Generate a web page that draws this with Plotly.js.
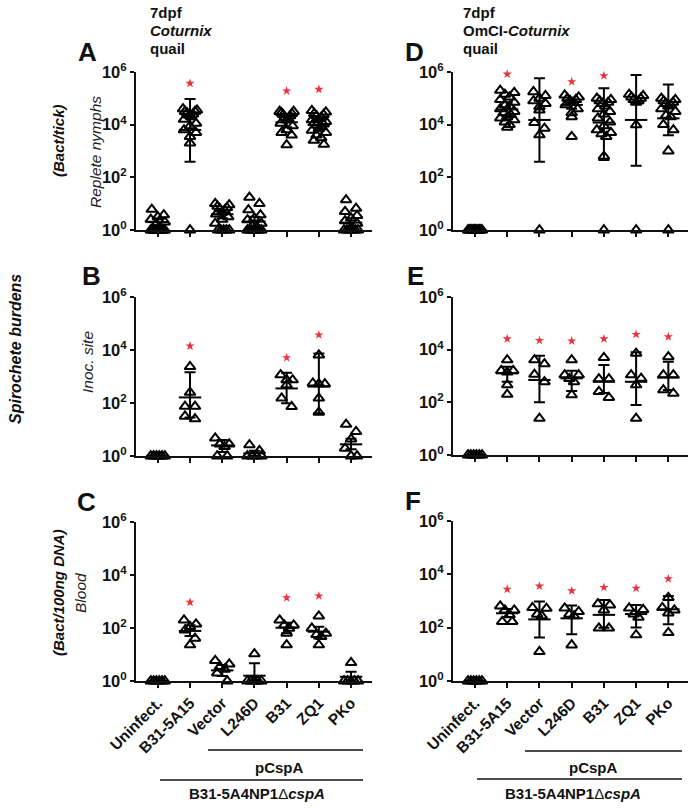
<!DOCTYPE html>
<html>
<head>
<meta charset="utf-8">
<script src="https://cdn.plot.ly/plotly-3.0.1.min.js"></script>
<style>html,body{margin:0;padding:0;background:#fff;}#chart{width:696px;height:808px;}</style>
</head>
<body>
<div id="chart"></div>
<script>
// ---------------- DATA (log10 of spirochete burden) ----------------
const categories = ["Uninfect.", "B31-5A15", "Vector", "L246D", "B31", "ZQ1", "PKo"];
const tickExponents = [0, 2, 4, 6];

// Panel A – Coturnix quail, replete nymphs (Bact/tick)
const A_points = [
  [0,0,0,0,0,0,0,0,0,0,0,0,0.1,0.2,0.3,0.4,0.5,0.57,0.78],
  [4.6,4.55,4.5,4.5,4.45,4.4,4.35,4.3,4.2,4.05,3.95,3.8,3.7,3.55,3.3,0],
  [1.0,0.95,0.9,0.85,0.8,0.75,0.68,0.6,0.5,0.4,0.25,0,0,0,0,0],
  [1.24,1.0,0.76,0.57,0.45,0.38,0.25,0.15,0.1,0,0,0,0,0,0,0,0],
  [4.5,4.5,4.45,4.42,4.38,4.33,4.28,4.22,4.18,4.05,3.95,3.8,3.7,3.6,3.23],
  [4.53,4.48,4.42,4.38,4.33,4.28,4.22,4.18,4.12,4.08,4.02,3.98,3.92,3.85,3.78,3.7,3.6,3.5,3.4,3.25],
  [1.14,0.82,0.7,0.55,0.45,0.35,0.25,0.1,0,0,0,0,0,0]
];
const A_mean = [0.3, 3.8, 0.6, 0.32, 4.09, 3.99, 0.28];
const A_low  = [0.15, 2.59, 0.45, 0.15, 3.9, 3.85, 0.12];
const A_high = [0.45, 4.97, 0.75, 0.5, 4.3, 4.15, 0.45];
const A_star = [null, 5.57, null, null, 5.28, 5.34, null];

// Panel B – Coturnix quail, inoculation site
const B_points = [
  [0,0,0,0,0,0],
  [3.37,2.4,1.87,1.87,1.5,1.4],
  [0.67,0.45,0.45,0.35,0,0],
  [0.42,0.2,0,0,0,0],
  [3.06,2.87,2.87,2.68,2.18,1.86],
  [3.81,2.75,2.72,2.72,2.18,1.65],
  [1.19,0.92,0.64,0.29,0,0]
];
const B_mean = [0, 2.21, 0.4, 0.1, 2.55, 2.62, 0.44];
const B_low  = [0, 1.45, 0.15, 0, 1.99, 1.61, 0.25];
const B_high = [0, 3.16, 0.6, 0.2, 3.14, 3.87, 0.65];
const B_star = [null, 4.15, null, null, 3.71, 4.57, null];

// Panel C – Coturnix quail, blood (Bact/100ng DNA)
const C_points = [
  [0,0,0,0,0,0],
  [2.3,2.15,2.05,1.92,1.61,1.36],
  [0.77,0.64,0.54,0.44,0.3,0],
  [1.02,0,0,0,0,0],
  [2.3,2.11,2.11,1.99,1.8,1.36],
  [2.45,1.99,1.8,1.75,1.67,1.36],
  [0.69,0,0,0,0,0]
];
const C_mean = [0, 1.89, 0.4, 0.2, 2.01, 1.86, 0.16];
const C_low  = [0, 1.7, 0.19, 0, 1.8, 1.6, 0];
const C_high = [0, 2.1, 0.6, 0.67, 2.2, 2.05, 0.35];
const C_star = [null, 2.97, null, null, 3.14, 3.21, null];

// Panel D – OmCI-Coturnix quail, replete nymphs
const D_points = [
  [0,0,0,0,0,0,0,0,0,0,0,0],
  [5.3,5.22,5.15,5.05,4.95,4.85,4.75,4.7,4.6,4.5,4.45,4.38,4.3,4.25,4.18,4.1,4.0,3.9],
  [5.25,5.1,5.0,4.9,4.8,4.68,4.55,4.08,3.86,3.61,0],
  [5.12,5.05,5.0,4.95,4.9,4.85,4.75,4.6,4.45,4.3,3.55],
  [5.0,4.95,4.9,4.85,4.8,4.7,4.6,4.5,4.4,4.25,4.1,3.95,3.8,3.7,3.65,3.55,2.8,0],
  [5.15,5.1,5.05,5.0,4.95,4.9,4.85,3.99,0],
  [5.0,4.95,4.9,4.85,4.8,4.75,4.7,4.6,4.5,4.35,4.3,4.0,3.8,3.0,0]
];
const D_mean = [0, 4.58, 4.18, 4.75, 4.08, 4.18, 4.24];
const D_low  = [0, 4.35, 2.59, 4.6, 2.66, 2.44, 3.6];
const D_high = [0, 4.85, 5.76, 4.95, 5.38, 5.89, 5.53];
const D_star = [null, 5.92, 6.27, 5.63, 5.86, 6.35, 6.01];

// Panel E – OmCI-Coturnix quail, inoculation site
const E_points = [
  [0,0,0,0,0,0],
  [3.61,3.2,3.2,3.15,2.66,2.3],
  [3.61,3.46,3.06,2.78,1.39],
  [3.61,3.04,3.04,2.9,2.78,2.28],
  [3.7,2.89,2.89,2.41,2.18],
  [3.86,3.04,2.91,2.66,1.39],
  [3.73,3.04,3.04,2.47,2.34]
];
const E_mean = [0, 3.1, 2.85, 2.91, 2.78, 2.78, 2.94];
const E_low  = [0, 2.78, 2.0, 2.43, 2.35, 1.9, 2.47];
const E_high = [0, 3.35, 3.77, 3.2, 3.42, 3.9, 3.54];
const E_star = [null, 4.41, 4.35, 4.33, 4.41, 4.58, 4.49];

// Panel F – OmCI-Coturnix quail, blood
const F_points = [
  [0,0,0,0,0,0],
  [2.81,2.66,2.66,2.48,2.23,2.23],
  [2.75,2.72,2.5,2.44,1.1],
  [2.73,2.6,2.5,2.44,1.35],
  [2.89,2.85,2.66,1.98,1.98],
  [2.73,2.68,2.51,2.39,1.73],
  [3.13,2.75,2.66,2.55,1.81]
];
const F_mean = [0, 2.54, 2.31, 2.35, 2.48, 2.51, 2.69];
const F_low  = [0, 2.4, 1.63, 1.75, 2.0, 2.01, 2.13];
const F_high = [0, 2.7, 2.98, 2.83, 3.04, 2.85, 3.19];
const F_star = [null, 3.44, 3.56, 3.38, 3.51, 3.48, 3.83];

// ---------------- LAYOUT / DRAWING ----------------
const W = 696, H = 808;
const PX_PER_DEC = 158 / 6;   // vertical pixels per decade
const PX_PER_CAT = 32.2;      // horizontal pixels per category
const FONT = "Liberation Sans, Arial, Helvetica, sans-serif";

const panels = [
  {id: "", pts: A_points, mean: A_mean, low: A_low, high: A_high, star: A_star, xd: [136, 372], yd: [72, 230], xr: [-0.677, 6.65], labels: false},
  {id: "2", pts: B_points, mean: B_mean, low: B_low, high: B_high, star: B_star, xd: [136, 372], yd: [297, 456], xr: [-0.677, 6.65], labels: false},
  {id: "3", pts: C_points, mean: C_mean, low: C_low, high: C_high, star: C_star, xd: [136, 372], yd: [522, 681], xr: [-0.677, 6.65], labels: true},
  {id: "4", pts: D_points, mean: D_mean, low: D_low, high: D_high, star: D_star, xd: [453, 688], yd: [72, 230], xr: [-0.683, 6.61], labels: false},
  {id: "5", pts: E_points, mean: E_mean, low: E_low, high: E_high, star: E_star, xd: [453, 688], yd: [297, 455], xr: [-0.683, 6.61], labels: false},
  {id: "6", pts: F_points, mean: F_mean, low: F_low, high: F_high, star: F_star, xd: [453, 688], yd: [521, 681], xr: [-0.683, 6.61], labels: true}
];

// scatter-dot-plot spreading (pixel offsets) for overlapping points
function swarmOffsets(vals) {
  const order = vals.map((v, i) => i).sort((a, b) => vals[b] - vals[a]);
  const off = new Array(vals.length).fill(0);
  let k = 0;
  while (k < order.length) {
    const start = vals[order[k]] * PX_PER_DEC;
    let j = k;
    while (j < order.length && start - vals[order[j]] * PX_PER_DEC < 9) j++;
    const group = order.slice(k, j);
    const n = group.length;
    if (n > 1) {
      const half = n === 2 ? 5 : (n === 3 ? 6 : 7);
      const pos = [];
      for (let m = 0; m < n; m++) pos.push(-half + 2 * half * m / (n - 1));
      const seq = [];
      let lo = 0, hi = n - 1;
      while (lo <= hi) { seq.push(pos[lo++]); if (lo <= hi) seq.push(pos[hi--]); }
      group.forEach((gi, m) => { off[gi] = seq[m]; });
    }
    k = j;
  }
  return off;
}

const traces = [];
const layout = {
  width: W, height: H,
  margin: {l: 0, r: 0, t: 0, b: 0},
  paper_bgcolor: "#fff", plot_bgcolor: "rgba(0,0,0,0)",
  showlegend: false,
  font: {family: FONT, color: "#111"},
  annotations: [], shapes: []
};

panels.forEach(p => {
  const xa = "x" + p.id, ya = "y" + p.id;
  // points
  const px = [], py = [];
  p.pts.forEach((vals, c) => {
    const off = swarmOffsets(vals);
    vals.forEach((v, i) => { px.push(c + off[i] / PX_PER_CAT); py.push(Math.pow(10, v)); });
  });
  traces.push({
    type: "scatter", mode: "markers", x: px, y: py, xaxis: xa, yaxis: ya,
    cliponaxis: false, hoverinfo: "skip",
    marker: {symbol: "triangle-up-open", size: 9.5, color: "#000", line: {width: 2, color: "#000"}}
  });
  // mean with error bars
  const mx = categories.map((_, i) => i);
  const my = p.mean.map(v => Math.pow(10, v));
  traces.push({
    type: "scatter", mode: "markers", x: mx, y: my, xaxis: xa, yaxis: ya,
    cliponaxis: false, hoverinfo: "skip",
    marker: {symbol: "line-ew", size: 16, color: "#000", line: {width: 2, color: "#000"}},
    error_y: {
      type: "data", symmetric: false,
      array: p.high.map((h, i) => Math.pow(10, h) - my[i]),
      arrayminus: p.low.map((l, i) => my[i] - Math.pow(10, l)),
      width: 5.5, thickness: 2, color: "#000"
    }
  });
  // significance stars
  const sx = [], sy = [];
  p.star.forEach((s, i) => { if (s !== null) { sx.push(i); sy.push(Math.pow(10, s)); } });
  traces.push({
    type: "scatter", mode: "markers", x: sx, y: sy, xaxis: xa, yaxis: ya,
    cliponaxis: false, hoverinfo: "skip",
    marker: {symbol: "star", size: 7, color: "#e8333b", line: {width: 0}}
  });

  layout["xaxis" + p.id] = {
    domain: [p.xd[0] / W, p.xd[1] / W], range: p.xr, anchor: ya,
    showgrid: false, zeroline: false, showline: true, linecolor: "#111", linewidth: 2,
    ticks: "outside", ticklen: 5, tickwidth: 2, tickcolor: "#111",
    tickmode: "array", tickvals: categories.map((_, i) => i),
    ticktext: categories,
    showticklabels: p.labels, tickangle: -45,
    tickfont: {family: FONT, size: 15.5, color: "#111", weight: "bold"}
  };
  layout["yaxis" + p.id] = {
    domain: [1 - p.yd[1] / H, 1 - p.yd[0] / H], type: "log", range: [0, 6], anchor: xa,
    showgrid: false, zeroline: false, showline: true, linecolor: "#111", linewidth: 2,
    ticks: "outside", ticklen: 4, tickwidth: 2, tickcolor: "#111",
    tickmode: "array", tickvals: tickExponents.map(e => Math.pow(10, e)),
    ticktext: tickExponents.map(e => "10<sup>" + e + "</sup>"),
    tickfont: {family: FONT, size: 16.5, color: "#111", weight: "bold"}
  };
});

function ann(text, x, y, opts) {
  layout.annotations.push(Object.assign({
    text: text, x: x / W, y: 1 - y / H, xref: "paper", yref: "paper",
    xanchor: "center", yanchor: "middle", showarrow: false,
    font: {family: FONT, size: 15, color: "#111"}
  }, opts || {}));
}
function hline(x0, x1, y) {
  layout.shapes.push({type: "line", xref: "paper", yref: "paper",
    x0: x0 / W, x1: x1 / W, y0: 1 - y / H, y1: 1 - y / H, line: {color: "#111", width: 1.6}});
}

// column titles
ann("<b>7dpf</b>", 148, 12, {xanchor: "left"});
ann("<b><i>Coturnix</i></b>", 148, 30, {xanchor: "left"});
ann("<b>quail</b>", 148, 49, {xanchor: "left"});
ann("<b>7dpf</b>", 461, 12, {xanchor: "left"});
ann("<b>OmCI-<i>Coturnix</i></b>", 461, 30, {xanchor: "left"});
ann("<b>quail</b>", 461, 49, {xanchor: "left"});

// panel letters
const bigFont = {family: FONT, size: 26, color: "#111"};
ann("<b>A</b>", 87, 52, {font: bigFont});
ann("<b>B</b>", 91, 276, {font: bigFont});
ann("<b>C</b>", 86, 502, {font: bigFont});
ann("<b>D</b>", 414, 52, {font: bigFont});
ann("<b>E</b>", 415, 276, {font: bigFont});
ann("<b>F</b>", 413, 501, {font: bigFont});

// y-axis titles
const itFont = {family: FONT, size: 15.5, color: "#222"};
ann("<i>Replete nymphs</i>", 96, 152, {textangle: -90, font: itFont});
ann("<b><i>(Bact/tick)</i></b>", 59, 140, {textangle: -90});
ann("<i>Inoc. site</i>", 88, 362, {textangle: -90, font: itFont});
ann("<b><i>Spirochete burdens</i></b>", 15, 349, {textangle: -90, font: {family: FONT, size: 16, color: "#111"}});
ann("<i>Blood</i>", 80, 593, {textangle: -90, font: itFont});
ann("<b><i>(Bact/100ng DNA)</i></b>", 58, 593, {textangle: -90});

// group brackets
hline(208, 363, 750); hline(160, 363, 780);
hline(525, 682, 751); hline(477, 682, 779);
ann("<b>pCspA</b>", 279, 767);
ann("<b>B31-5A4NP1</b>Δ<b><i>cspA</i></b>", 257, 793);
ann("<b>pCspA</b>", 593, 767);
ann("<b>B31-5A4NP1</b>Δ<b><i>cspA</i></b>", 573, 793);

Plotly.newPlot("chart", traces, layout, {staticPlot: true, displayModeBar: false});
</script>
</body>
</html>
